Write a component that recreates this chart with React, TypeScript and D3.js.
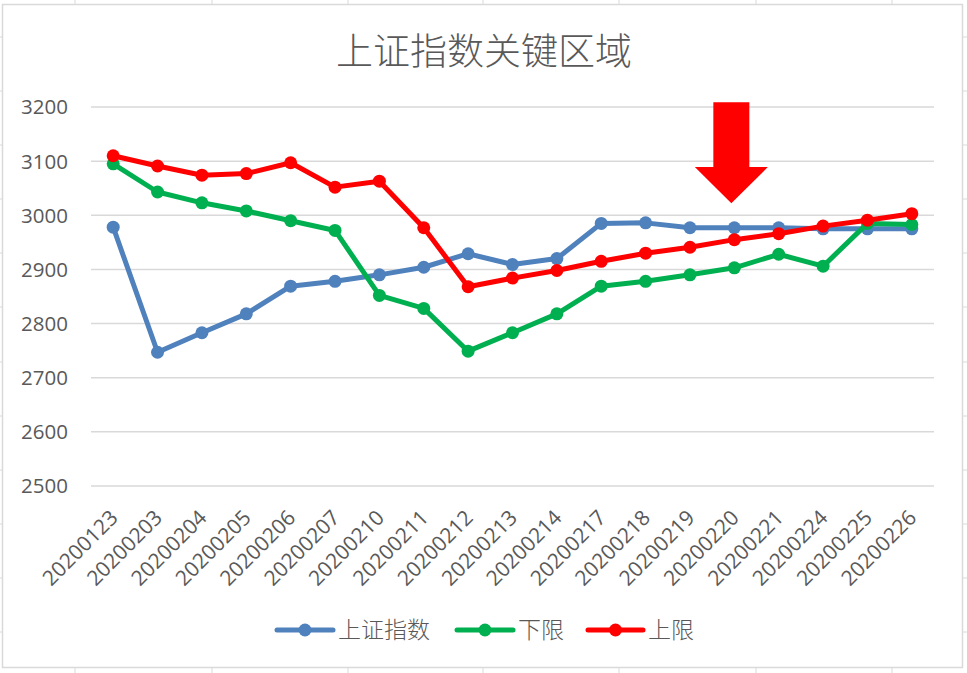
import React from "react";
import * as d3 from "d3";

const categories = [
  "20200123", "20200203", "20200204", "20200205", "20200206", "20200207",
  "20200210", "20200211", "20200212", "20200213", "20200214", "20200217",
  "20200218", "20200219", "20200220", "20200221", "20200224", "20200225", "20200226",
];

const szIndex = [2978, 2747, 2783, 2818, 2869, 2878, 2890, 2904, 2929, 2909, 2920, 2985, 2986, 2977, 2977, 2977, 2975, 2975, 2975];
const lowerBound = [3095, 3043, 3023, 3008, 2990, 2972, 2852, 2828, 2749, 2783, 2818, 2869, 2878, 2890, 2903, 2928, 2906, 2985, 2983];
const upperBound = [3110, 3091, 3074, 3077, 3097, 3052, 3063, 2977, 2868, 2884, 2898, 2915, 2930, 2941, 2955, 2966, 2980, 2991, 3003];

const yTicks = [2500, 2600, 2700, 2800, 2900, 3000, 3100, 3200];

const seriesNames = ["上证指数", "下限", "上限"];
const seriesColors = ["#4F81BD", "#00B050", "#FF0000"];

const arrowCategory = "20200220";
const arrowValues = { top: 3209, headBase: 3089, tip: 3022 };

const W = 967;
const H = 673;
const left = 91;
const right = 934;
const top = 107;
const bottom = 486;

export default function App() {
  const x = d3.scaleBand<string>().domain(categories).range([left, right]);
  const cx = (c: string) => (x(c) as number) + x.bandwidth() / 2;
  const y = d3.scaleLinear().domain([2500, 3200]).range([bottom, top]);
  const line = d3
    .line<number>()
    .x((_, i) => cx(categories[i]))
    .y((d) => y(d));

  const allSeries = [szIndex, lowerBound, upperBound];

  const ax = cx(arrowCategory) - 3;
  const aTop = y(arrowValues.top);
  const aBase = y(arrowValues.headBase);
  const aTip = y(arrowValues.tip);
  const arrowPath = `M${ax - 18},${aTop} L${ax + 18},${aTop} L${ax + 18},${aBase} L${ax + 36.5},${aBase} L${ax},${aTip} L${ax - 36.5},${aBase} L${ax - 18},${aBase} Z`;

  const sheetV = [75, 212, 348, 483, 619, 756, 892];
  const sheetH = [37, 91, 145, 199, 253, 307, 362, 416, 470, 524, 578, 632];

  const legendItems = [
    { name: seriesNames[0], x0: 277, x1: 333, tx: 338 },
    { name: seriesNames[1], x0: 457, x1: 513, tx: 518 },
    { name: seriesNames[2], x0: 588, x1: 643, tx: 648 },
  ];

  const cjk = "'Noto Sans CJK SC', 'Noto Sans', sans-serif";
  const latin = "'Open Sans', 'Noto Sans', sans-serif";

  return (
    <svg
      width={W}
      height={H}
      style={{ position: "absolute", left: 0, top: 0, display: "block" }}
    >
      <rect x={0} y={0} width={W} height={H} fill="#ffffff" />
      {sheetV.map((v) => (
        <g key={"sv" + v}>
          <line x1={v} x2={v} y1={0} y2={4} stroke="#dadada" />
          <line x1={v} x2={v} y1={668} y2={H} stroke="#dadada" />
        </g>
      ))}
      {sheetH.map((h) => (
        <g key={"sh" + h}>
          <line x1={0} x2={2} y1={h} y2={h} stroke="#dadada" />
          <line x1={963} x2={W} y1={h} y2={h} stroke="#dadada" />
        </g>
      ))}
      <rect x={2.5} y={4.5} width={960} height={663} fill="#ffffff" stroke="#d9d9d9" strokeWidth={1.5} />

      <text
        x={484}
        y={65}
        textAnchor="middle"
        fontFamily={cjk}
        fontSize={37}
        fill="#595959"
        fontWeight={300}
      >
        上证指数关键区域
      </text>

      {yTicks.map((t) => (
        <g key={t}>
          <line x1={left} x2={right} y1={y(t)} y2={y(t)} stroke="#d9d9d9" strokeWidth={1.5} />
          <text
            x={68}
            y={y(t)}
            dy="0.36em"
            textAnchor="end"
            fontFamily={latin}
            fontSize={20.5}
            fill="#595959"
          >
            {t}
          </text>
        </g>
      ))}

      {categories.map((c) => (
        <text
          key={c}
          transform={`translate(${cx(c) + 6},${bottom + 33}) rotate(-45)`}
          textAnchor="end"
          fontFamily={latin}
          fontSize={21}
          fill="#595959"
        >
          {c}
        </text>
      ))}

      {allSeries.map((s, si) => (
        <g key={si}>
          <path
            d={line(s) as string}
            fill="none"
            stroke={seriesColors[si]}
            strokeWidth={5}
            strokeLinejoin="round"
            strokeLinecap="round"
          />
          {s.map((v, i) => (
            <circle key={i} cx={cx(categories[i])} cy={y(v)} r={6.5} fill={seriesColors[si]} />
          ))}
        </g>
      ))}

      <path d={arrowPath} fill="#FF0000" />

      {legendItems.map((l, i) => (
        <g key={l.name}>
          <line
            x1={l.x0}
            x2={l.x1}
            y1={630}
            y2={630}
            stroke={seriesColors[i]}
            strokeWidth={5}
            strokeLinecap="round"
          />
          <circle cx={(l.x0 + l.x1) / 2} cy={630} r={6.5} fill={seriesColors[i]} />
          <text
            x={l.tx}
            y={630}
            dy="0.36em"
            fontFamily={cjk}
            fontSize={23}
            fill="#595959"
            fontWeight={300}
          >
            {l.name}
          </text>
        </g>
      ))}
    </svg>
  );
}
